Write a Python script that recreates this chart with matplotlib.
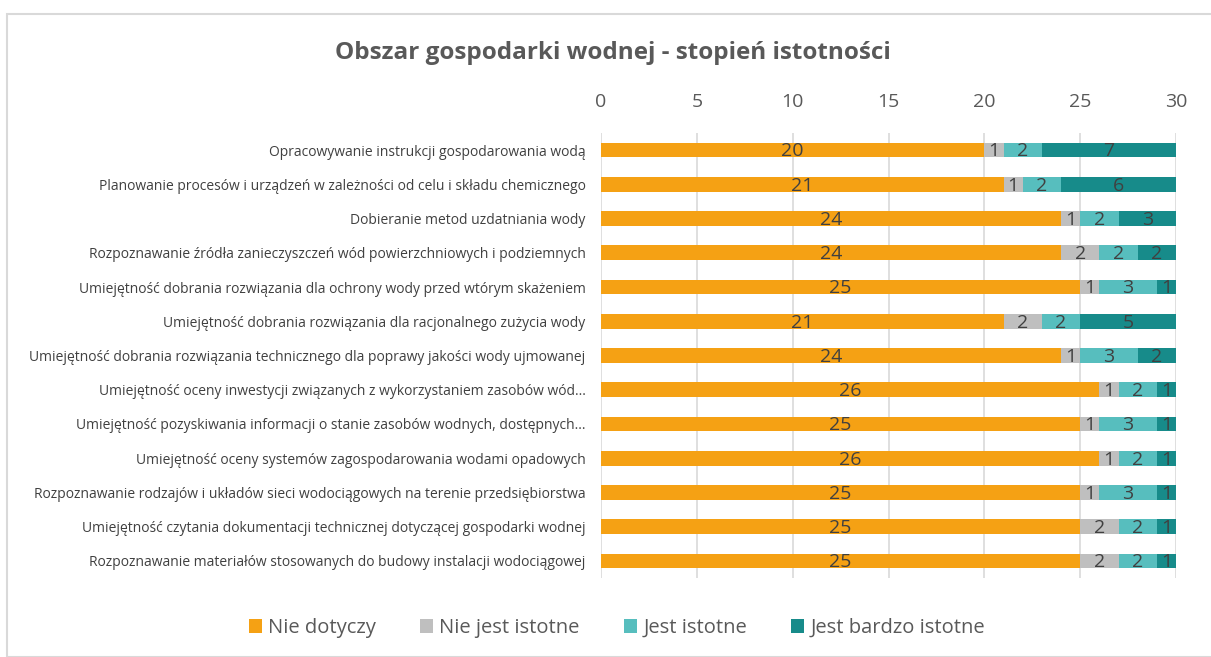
import matplotlib
matplotlib.use("Agg")
import matplotlib.pyplot as plt
from matplotlib.patches import Rectangle, Patch

categories = [
    "Opracowywanie instrukcji gospodarowania wodą",
    "Planowanie procesów i urządzeń w zależności od celu i składu chemicznego",
    "Dobieranie metod uzdatniania wody",
    "Rozpoznawanie źródła zanieczyszczeń wód powierzchniowych i podziemnych",
    "Umiejętność dobrania rozwiązania dla ochrony wody przed wtórym skażeniem",
    "Umiejętność dobrania rozwiązania dla racjonalnego zużycia wody",
    "Umiejętność dobrania rozwiązania technicznego dla poprawy jakości wody ujmowanej",
    "Umiejętność oceny inwestycji związanych z wykorzystaniem zasobów wód...",
    "Umiejętność pozyskiwania informacji o stanie zasobów wodnych, dostępnych...",
    "Umiejętność oceny systemów zagospodarowania wodami opadowych",
    "Rozpoznawanie rodzajów i układów sieci wodociągowych na terenie przedsiębiorstwa",
    "Umiejętność czytania dokumentacji technicznej dotyczącej gospodarki wodnej",
    "Rozpoznawanie materiałów stosowanych do budowy instalacji wodociągowej",
]
series_names = ["Nie dotyczy", "Nie jest istotne", "Jest istotne", "Jest bardzo istotne"]
nie_dotyczy = [20, 21, 24, 24, 25, 21, 24, 26, 25, 26, 25, 25, 25]
nie_jest_istotne = [1, 1, 1, 2, 1, 2, 1, 1, 1, 1, 1, 2, 2]
jest_istotne = [2, 2, 2, 2, 3, 2, 3, 2, 3, 2, 3, 2, 2]
jest_bardzo_istotne = [7, 6, 3, 2, 1, 5, 2, 1, 1, 1, 1, 1, 1]
x_ticks = [0, 5, 10, 15, 20, 25, 30]
title = "Obszar gospodarki wodnej - stopień istotności"

colors = ["#F5A114", "#BFBFBF", "#57BEBE", "#178B8A"]

plt.rcParams["font.family"] = ["Open Sans", "DejaVu Sans"]

W, H = 1211, 657
fig = plt.figure(figsize=(W / 100, H / 100), dpi=100)
fig.patch.set_facecolor("white")
fig.patches.append(Rectangle((7 / W, 0), 2, 1 - 14 / H, transform=fig.transFigure,
                             fill=False, edgecolor="#D9D9D9", linewidth=1.5))

ax = fig.add_axes([601 / W, 1 - 578 / H, (1176 - 601) / W, (578 - 133) / H])
ax.set_facecolor("white")

series = [nie_dotyczy, nie_jest_istotne, jest_istotne, jest_bardzo_istotne]
y = list(range(len(categories)))
left = [0] * len(categories)
for vals, col, name in zip(series, colors, series_names):
    ax.barh(y, vals, left=left, height=0.43, color=col, label=name, zorder=3)
    for yi, v, l in zip(y, vals, left):
        ax.text(l + v / 2, yi + 0.04, str(v), ha="center", va="center",
                fontsize=14, color="#404040", zorder=4)
    left = [a + b for a, b in zip(left, vals)]

ax.set_xlim(0, 30)
ax.set_ylim(len(categories) - 0.5, -0.5)
ax.set_xticks(x_ticks)
ax.xaxis.tick_top()
ax.tick_params(axis="x", length=0, pad=16, labelsize=14, labelcolor="#595959")
ax.set_yticks(y)
ax.set_yticklabels(categories, fontsize=10, color="#404040")
ax.tick_params(axis="y", length=0, pad=11)
ax.grid(axis="x", color="#D9D9D9", linewidth=1.2, zorder=0)
for s in ax.spines.values():
    s.set_visible(False)

fig.text(613 / W, 1 - 53 / H, title, ha="center", va="center", fontsize=17.5,
         fontweight="bold", color="#595959")

handles = [Patch(facecolor=c, label=n) for c, n in zip(colors, series_names)]
fig.legend(handles=handles, loc="center", bbox_to_anchor=(617 / W, 1 - 628 / H),
           ncol=4, frameon=False, fontsize=14.5, handlelength=0.65, handleheight=0.65,
           handletextpad=0.3, columnspacing=2.2, labelcolor="#595959")

fig.savefig("out.png", dpi=100, facecolor="white")
